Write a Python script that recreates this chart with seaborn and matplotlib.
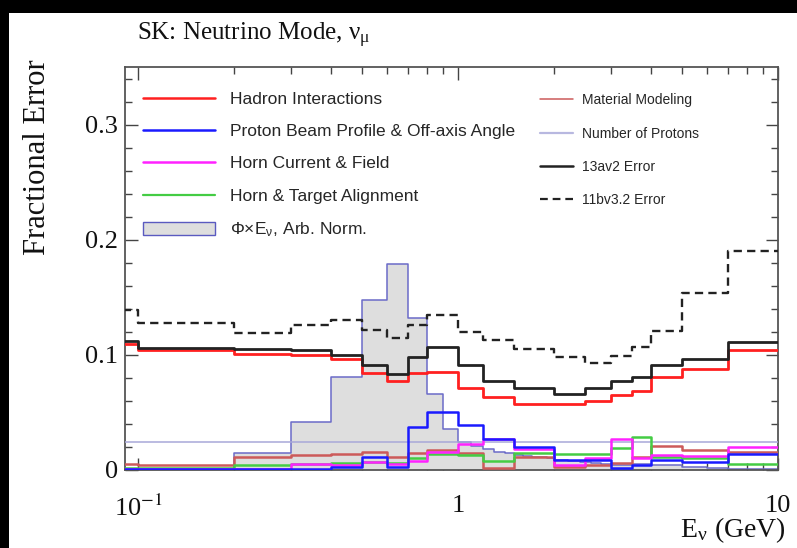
import matplotlib
matplotlib.use("Agg")
import numpy as np
import pandas as pd
import matplotlib.pyplot as plt
import seaborn as sns
from matplotlib.lines import Line2D
from matplotlib.patches import Patch, Rectangle
from matplotlib.ticker import FixedLocator, FixedFormatter, LogLocator, MultipleLocator, NullFormatter

# error histogram binning (GeV), first bin runs off the left edge
edges = [0.05, 0.1, 0.2, 0.3, 0.4, 0.5, 0.6, 0.7, 0.8, 1.0, 1.2,
         1.5, 2.0, 2.5, 3.0, 3.5, 4.0, 5.0, 7.0, 10.0]

hadron = [0.109, 0.104, 0.101, 0.100, 0.096, 0.084, 0.077, 0.084, 0.085, 0.071,
          0.063, 0.057, 0.057, 0.060, 0.065, 0.069, 0.081, 0.088, 0.104]
beam = [0.001, 0.0005, 0.0005, 0.001, 0.003, 0.011, 0.003, 0.037, 0.050, 0.039,
        0.027, 0.020, 0.009, 0.009, 0.002, 0.004, 0.009, 0.007, 0.014]
horn_current = [0.0005, 0.001, 0.001, 0.005, 0.004, 0.007, 0.005, 0.008, 0.016, 0.023,
                0.027, 0.018, 0.004, 0.010, 0.027, 0.010, 0.013, 0.012, 0.020]
alignment = [0.002, 0.002, 0.004, 0.005, 0.006, 0.007, 0.006, 0.010, 0.014, 0.013,
             0.008, 0.015, 0.014, 0.014, 0.019, 0.029, 0.011, 0.010, 0.005]
material = [0.005, 0.004, 0.011, 0.013, 0.014, 0.016, 0.011, 0.015, 0.017, 0.015,
            0.002, 0.011, 0.003, 0.004, 0.006, 0.011, 0.021, 0.017, 0.016]
protons = [0.024, 0.024, 0.024, 0.024, 0.024, 0.024, 0.024, 0.024, 0.024, 0.024,
           0.024, 0.024, 0.024, 0.024, 0.024, 0.024, 0.024, 0.024, 0.024]
total_13av2 = [0.112, 0.106, 0.105, 0.104, 0.100, 0.091, 0.083, 0.098, 0.107, 0.091,
               0.077, 0.071, 0.066, 0.071, 0.077, 0.081, 0.091, 0.096, 0.111]
total_11bv32 = [0.139, 0.128, 0.119, 0.126, 0.130, 0.122, 0.115, 0.126, 0.135, 0.120,
                0.113, 0.105, 0.098, 0.093, 0.099, 0.107, 0.121, 0.154, 0.190]

# flux x E shape, arbitrary normalisation
flux_edges = [0.05, 0.1, 0.2, 0.3, 0.4, 0.5, 0.6, 0.7, 0.8, 0.9, 1.0,
              1.1, 1.2, 1.3, 1.4, 1.5, 1.6, 1.7, 1.8, 1.9, 2.0,
              2.2, 2.4, 2.6, 2.8, 3.0, 3.5, 4.0, 5.0, 6.0, 7.0, 10.0]
flux = [0.0005, 0.001, 0.015, 0.042, 0.081, 0.148, 0.179, 0.132, 0.066, 0.036,
        0.024, 0.021, 0.018, 0.016, 0.015, 0.013, 0.012, 0.011, 0.011, 0.010,
        0.009, 0.008, 0.007, 0.006, 0.005, 0.004, 0.005, 0.004, 0.003, 0.002, 0.001]

sns.set_theme(style="ticks")
plt.rcParams["font.family"] = ["Liberation Serif", "DejaVu Serif"]
plt.rcParams["mathtext.fontset"] = "stix"

W, H = 797, 548
fig = plt.figure(figsize=(W / 100, H / 100), dpi=100)
fig.patch.set_facecolor("black")
fig.add_artist(Rectangle((9 / W, 0), (W - 9) / W, (H - 13) / H,
                         transform=fig.transFigure, facecolor="white",
                         edgecolor="none", zorder=-5))

ax = fig.add_axes([125 / W, (H - 470) / H, (778 - 125) / W, (470 - 67) / H])
ax.set_xscale("log")


def step_line(vals, bins, **kw):
    df = pd.DataFrame({"E": bins, "err": list(vals) + [vals[-1]]})
    sns.lineplot(data=df, x="E", y="err", drawstyle="steps-post",
                 errorbar=None, sort=False, ax=ax, **kw)


# flux shape underneath everything
fl = list(flux) + [flux[-1]]
ax.fill_between(flux_edges, fl, step="post", color="#dedede", lw=0, zorder=1)
step_line(flux, flux_edges, color="#6b6bc8", lw=1.1, zorder=2)

step_line(protons, edges, color="#a8a8d8", lw=1.1, zorder=3)
step_line(material, edges, color="#cc5a5a", lw=1.8, zorder=3)
step_line(alignment, edges, color="#44cc44", lw=1.8, zorder=3)
step_line(horn_current, edges, color="#ff22ff", lw=1.8, zorder=3)
step_line(beam, edges, color="#1a1aff", lw=1.8, zorder=3)
step_line(hadron, edges, color="#ff2020", lw=2.0, zorder=4)
step_line(total_13av2, edges, color="#222222", lw=2.0, zorder=5)
step_line(total_11bv32, edges, color="#222222", lw=1.7, linestyle=(0, (3.5, 2.2)), zorder=5)

ax.set_xlim(0.0911, 10)
ax.set_ylim(0, 0.35)
ax.set_xlabel("")
ax.set_ylabel("")

ax.xaxis.set_major_locator(FixedLocator([0.1, 1, 10]))
ax.xaxis.set_major_formatter(FixedFormatter(["10$^{-1}$", "1", "10"]))
ax.xaxis.set_minor_locator(LogLocator(base=10, subs=np.arange(2, 10)))
ax.xaxis.set_minor_formatter(NullFormatter())
ax.yaxis.set_major_locator(FixedLocator([0, 0.1, 0.2, 0.3]))
ax.yaxis.set_major_formatter(FixedFormatter(["0", "0.1", "0.2", "0.3"]))
ax.yaxis.set_minor_locator(MultipleLocator(0.02))

ax.tick_params(which="both", direction="in", top=True, right=True,
               colors="#444444", labelcolor="#111111", width=1.0)
ax.tick_params(which="major", length=9, labelsize=19)
ax.tick_params(which="minor", length=5)
ax.tick_params(axis="x", which="major", pad=18)
ax.tick_params(axis="y", which="major", pad=5)
for s in ax.spines.values():
    s.set_color("#555555")
    s.set_linewidth(1.3)

fig.text(137 / W, 1 - 35 / H, "SK: Neutrino Mode, ν$_{\\mathregular{μ}}$",
         fontsize=18, ha="left", va="center", color="#111111")
fig.text(38 / W, 1 - 59 / H, "Fractional Error", rotation=90,
         fontsize=22, ha="center", va="top", color="#111111")
fig.text(786 / W, 1 - 530 / H, "E$_{\\mathregular{ν}}$ (GeV)",
         fontsize=20, ha="right", va="center", color="#111111")

left_handles = [
    Line2D([], [], color="#ff2020", lw=1.8),
    Line2D([], [], color="#1a1aff", lw=1.8),
    Line2D([], [], color="#ff22ff", lw=1.8),
    Line2D([], [], color="#44cc44", lw=1.6),
    Patch(facecolor="#dedede", edgecolor="#5a5ac0", lw=1.0),
]
left_labels = ["Hadron Interactions", "Proton Beam Profile & Off-axis Angle",
               "Horn Current & Field", "Horn & Target Alignment",
               "Φ×E$_{\\mathregular{ν}}$, Arb. Norm."]
leg1 = ax.legend(left_handles, left_labels, loc="upper left",
                 bbox_to_anchor=(0.0276, 0.938), frameon=False,
                 borderpad=0, borderaxespad=0, handlelength=4.15,
                 handletextpad=0.86, labelspacing=0.98,
                 prop={"family": "Liberation Sans", "size": 12.5})
ax.add_artist(leg1)

right_handles = [
    Line2D([], [], color="#cc5a5a", lw=1.1),
    Line2D([], [], color="#b8b8e0", lw=1.6),
    Line2D([], [], color="#222222", lw=1.8),
    Line2D([], [], color="#222222", lw=1.6, linestyle=(0, (3.5, 2.2))),
]
right_labels = ["Material Modeling", "Number of Protons", "13av2 Error", "11bv3.2 Error"]
ax.legend(right_handles, right_labels, loc="upper left",
          bbox_to_anchor=(0.6355, 0.935), frameon=False,
          borderpad=0, borderaxespad=0, handlelength=2.4,
          handletextpad=0.65, labelspacing=1.39,
          prop={"family": "Liberation Sans", "size": 10})

fig.savefig("out.png", dpi=100, facecolor=fig.get_facecolor())
